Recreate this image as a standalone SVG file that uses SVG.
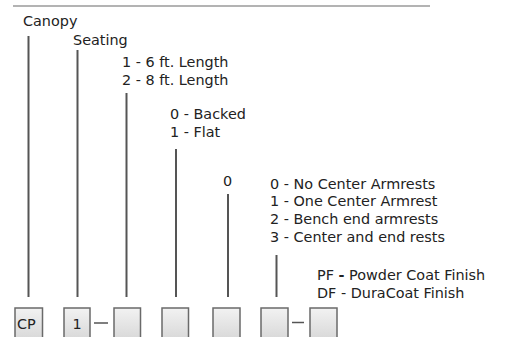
<svg xmlns="http://www.w3.org/2000/svg" width="505" height="337" viewBox="0 0 505 337">
  <defs>
    <linearGradient id="boxFill" x1="0" y1="0" x2="0" y2="1">
      <stop offset="0" stop-color="#f2f2f2"/>
      <stop offset="1" stop-color="#d6d6d6"/>
    </linearGradient>
  </defs>
  <style>
    text { font-family: "DejaVu Sans", Verdana, sans-serif; font-size: 14.4px; fill: #222; }
    .lead { stroke: #555; stroke-width: 2; fill: none; }
    .dash { stroke: #555; stroke-width: 1.5; fill: none; }
    .box { fill: url(#boxFill); stroke: #6a6a6a; stroke-width: 1.5; }
    .rule { stroke: #9a9a9a; stroke-width: 1.5; }
  </style>
  <rect width="505" height="337" fill="#ffffff"/>
  <line class="rule" x1="13" y1="6" x2="430" y2="6"/>

  <g id="labels">
    <text x="23" y="25.5">Canopy</text>
    <text x="73" y="45">Seating</text>
    <text x="122" y="66.5">1 - 6 ft. Length</text>
    <text x="122" y="84.5">2 - 8 ft. Length</text>
    <text x="170" y="119">0 - Backed</text>
    <text x="170" y="137">1 - Flat</text>
    <text x="223" y="185.5">0</text>
    <text x="270" y="188.5">0 - No Center Armrests</text>
    <text x="270" y="206.3">1 - One Center Armrest</text>
    <text x="270" y="224.1">2 - Bench end armrests</text>
    <text x="270" y="241.9">3 - Center and end rests</text>
    <text x="317" y="280">PF <tspan font-weight="bold">-</tspan> Powder Coat Finish</text>
    <text x="317" y="298">DF - DuraCoat Finish</text>
  </g>

  <g id="connectors">
    <line class="lead" x1="28.5" y1="36" x2="28.5" y2="297"/>
    <line class="lead" x1="77.5" y1="50" x2="77.5" y2="297"/>
    <line class="lead" x1="126.5" y1="93" x2="126.5" y2="297"/>
    <line class="lead" x1="176" y1="149" x2="176" y2="297"/>
    <line class="lead" x1="228" y1="194" x2="228" y2="297"/>
    <line class="lead" x1="276.5" y1="255" x2="276.5" y2="297"/>
    <line class="dash" x1="94" y1="323" x2="108" y2="323"/>
    <line class="dash" x1="292" y1="322.5" x2="304" y2="322.5"/>
  </g>

  <g id="box-cp">
    <rect class="box" x="15" y="308" width="27.5" height="34"/>
    <text x="17" y="328.5">CP</text>
  </g>
  <g id="box-seating">
    <rect class="box" x="64" y="308" width="26" height="34"/>
    <text x="72.5" y="328.5">1</text>
  </g>
  <g id="box-length">
    <rect class="box" x="114" y="308" width="26.5" height="34"/>
  </g>
  <g id="box-back">
    <rect class="box" x="162" y="308" width="26.5" height="34"/>
  </g>
  <g id="box-zero">
    <rect class="box" x="213" y="308" width="27" height="34"/>
  </g>
  <g id="box-armrest">
    <rect class="box" x="261" y="308" width="27" height="34"/>
  </g>
  <g id="box-finish">
    <rect class="box" x="310" y="308" width="27" height="34"/>
  </g>
</svg>
